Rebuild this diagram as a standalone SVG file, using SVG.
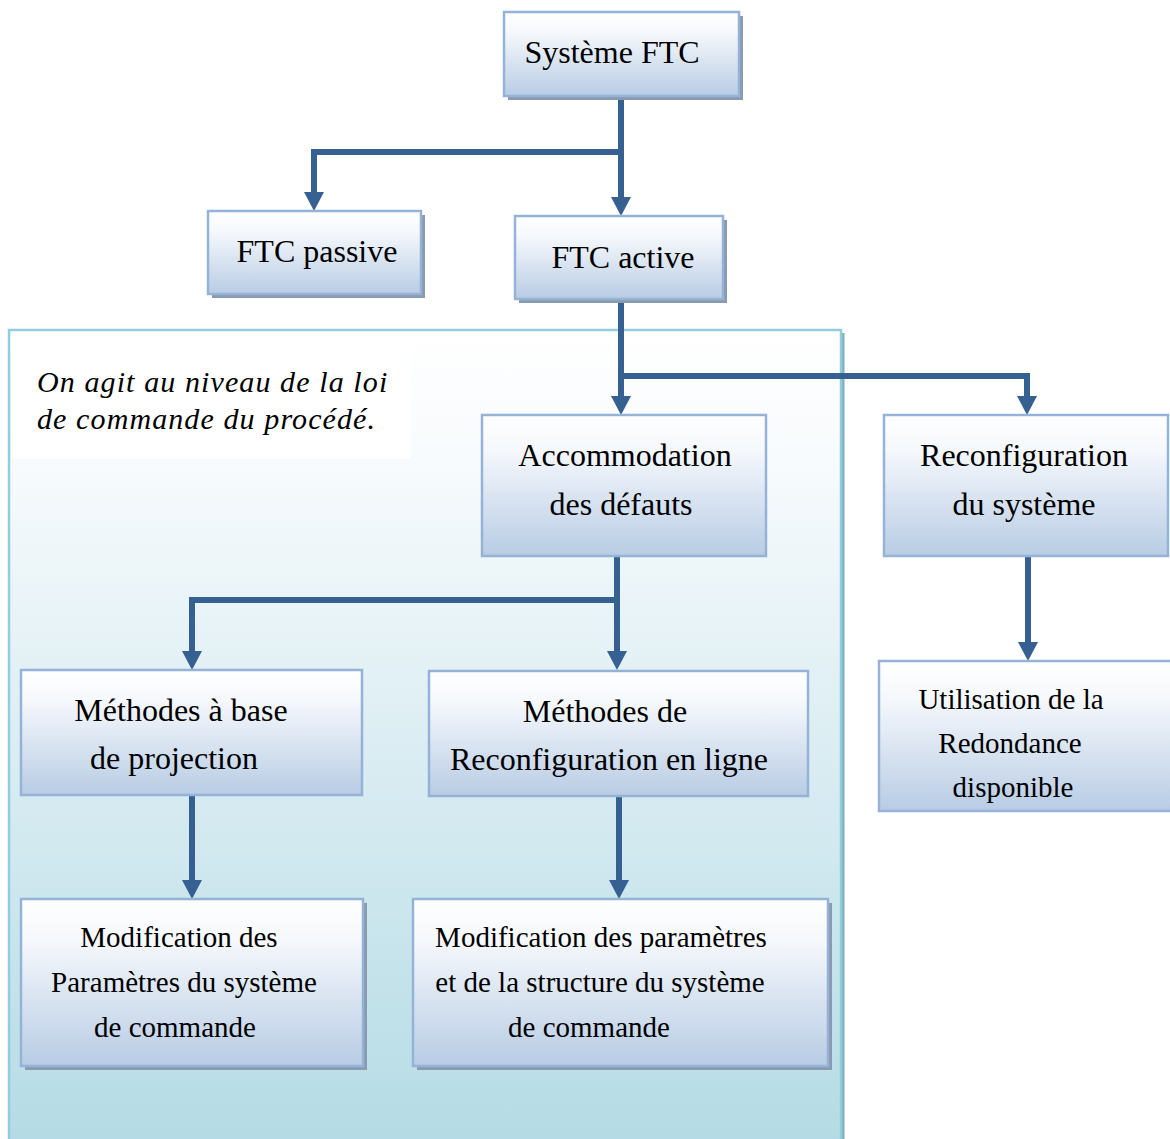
<svg xmlns="http://www.w3.org/2000/svg" width="1170" height="1139" viewBox="0 0 1170 1139">
  <defs>
    <linearGradient id="boxFill" x1="0" y1="0" x2="0" y2="1">
      <stop offset="0" stop-color="#ffffff"/>
      <stop offset="0.25" stop-color="#f5f8fc"/>
      <stop offset="1" stop-color="#b8cce4"/>
    </linearGradient>
    <linearGradient id="panelFill" x1="0" y1="0" x2="0" y2="1">
      <stop offset="0" stop-color="#ffffff"/>
      <stop offset="0.15" stop-color="#f8fbfd"/>
      <stop offset="1" stop-color="#b4dbe5"/>
    </linearGradient>
    <marker id="arrow" markerUnits="userSpaceOnUse" markerWidth="19" markerHeight="20" refX="0" refY="10" orient="auto">
      <path d="M0,0 L19,10 L0,20 z" fill="#376092"/>
    </marker>
    <clipPath id="clipUtil">
      <rect x="880" y="662" width="295" height="148"/>
    </clipPath>
  </defs>
  <style>
    .box { fill: url(#boxFill); stroke: #95b3d7; stroke-width: 2.5; }
    .shadow { fill: #8a9ab1; }
    .lbl { font-family: "Liberation Serif", "Times New Roman", serif; fill: #000; text-anchor: middle; }
    .big { font-size: 32px; }
    .small { font-size: 29px; }
    .note { font-family: "Liberation Serif", "Times New Roman", serif; font-style: italic; font-size: 30px; letter-spacing: 1.1px; fill: #000; }
    .conn { fill: none; stroke: #376092; stroke-width: 6; stroke-linejoin: miter; stroke-linecap: butt; }
  </style>

  <rect width="1170" height="1139" fill="#ffffff"/>

  <!-- active FTC panel -->
  <g id="panel">
    <rect x="842" y="333" width="2.5" height="810" fill="#7fb2bf"/>
    <rect x="9" y="330" width="832" height="815" fill="url(#panelFill)" stroke="#93cddd" stroke-width="2.5"/>
    <rect x="11" y="332" width="400" height="127" fill="#ffffff"/>
    <text class="note" x="37" y="392">On agit au niveau de la loi</text>
    <text class="note" x="37" y="429">de commande du procédé.</text>
  </g>

  <!-- connectors -->
  <g id="connectors">
    <path class="conn" d="M621,96 V197" marker-end="url(#arrow)"/>
    <path class="conn" d="M621,152 H314 V192" marker-end="url(#arrow)"/>
    <path class="conn" d="M621,299 V396" marker-end="url(#arrow)"/>
    <path class="conn" d="M621,376 H1027 V396" marker-end="url(#arrow)"/>
    <path class="conn" d="M617,556 V651" marker-end="url(#arrow)"/>
    <path class="conn" d="M617,600 H192 V651" marker-end="url(#arrow)"/>
    <path class="conn" d="M192,795 V880" marker-end="url(#arrow)"/>
    <path class="conn" d="M619,796 V880" marker-end="url(#arrow)"/>
    <path class="conn" d="M1028,556 V642" marker-end="url(#arrow)"/>
  </g>

  <g id="systeme-ftc">
    <rect class="shadow" x="508" y="16" width="235" height="84"/>
    <rect class="box" x="504" y="12" width="235" height="84"/>
    <text class="lbl big" x="612" y="63">Système FTC</text>
  </g>

  <g id="ftc-passive">
    <rect class="shadow" x="212" y="215" width="213" height="83"/>
    <rect class="box" x="208" y="211" width="213" height="83"/>
    <text class="lbl big" x="317" y="262">FTC passive</text>
  </g>

  <g id="ftc-active">
    <rect class="shadow" x="519" y="220" width="208" height="83"/>
    <rect class="box" x="515" y="216" width="208" height="83"/>
    <text class="lbl big" x="623" y="268">FTC active</text>
  </g>

  <g id="accommodation">
    <rect class="box" x="482" y="415" width="284" height="141"/>
    <text class="lbl big" x="625" y="466">Accommodation</text>
    <text class="lbl big" x="621" y="515">des défauts</text>
  </g>

  <g id="reconfiguration">
    <rect class="box" x="884" y="415" width="284" height="141"/>
    <text class="lbl big" x="1024" y="466">Reconfiguration</text>
    <text class="lbl big" x="1024" y="515">du système</text>
  </g>

  <g id="methodes-projection">
    <rect class="box" x="21" y="670" width="341" height="125"/>
    <text class="lbl big" x="181" y="721">Méthodes à base</text>
    <text class="lbl big" x="174" y="769">de projection</text>
  </g>

  <g id="methodes-reconfiguration">
    <rect class="box" x="429" y="671" width="379" height="125"/>
    <text class="lbl big" x="605" y="722">Méthodes de</text>
    <text class="lbl big" x="609" y="770">Reconfiguration en ligne</text>
  </g>

  <g id="utilisation-redondance">
    <rect class="box" x="879" y="661" width="300" height="150"/>
    <g clip-path="url(#clipUtil)">
      <text class="lbl small" x="1011" y="709">Utilisation de la</text>
      <text class="lbl small" x="1010" y="753">Redondance</text>
      <text class="lbl small" x="1013" y="797">disponible</text>
    </g>
  </g>

  <g id="modification-parametres">
    <rect class="shadow" x="25" y="903" width="342" height="167"/>
    <rect class="box" x="21" y="899" width="342" height="167"/>
    <text class="lbl small" x="179" y="947">Modification des</text>
    <text class="lbl small" x="184" y="992">Paramètres du système</text>
    <text class="lbl small" x="175" y="1037">de commande</text>
  </g>

  <g id="modification-structure">
    <rect class="shadow" x="417" y="903" width="415" height="167"/>
    <rect class="box" x="413" y="899" width="415" height="167"/>
    <text class="lbl small" x="601" y="947">Modification des paramètres</text>
    <text class="lbl small" x="600" y="992">et de la structure du système</text>
    <text class="lbl small" x="589" y="1037">de commande</text>
  </g>
</svg>
